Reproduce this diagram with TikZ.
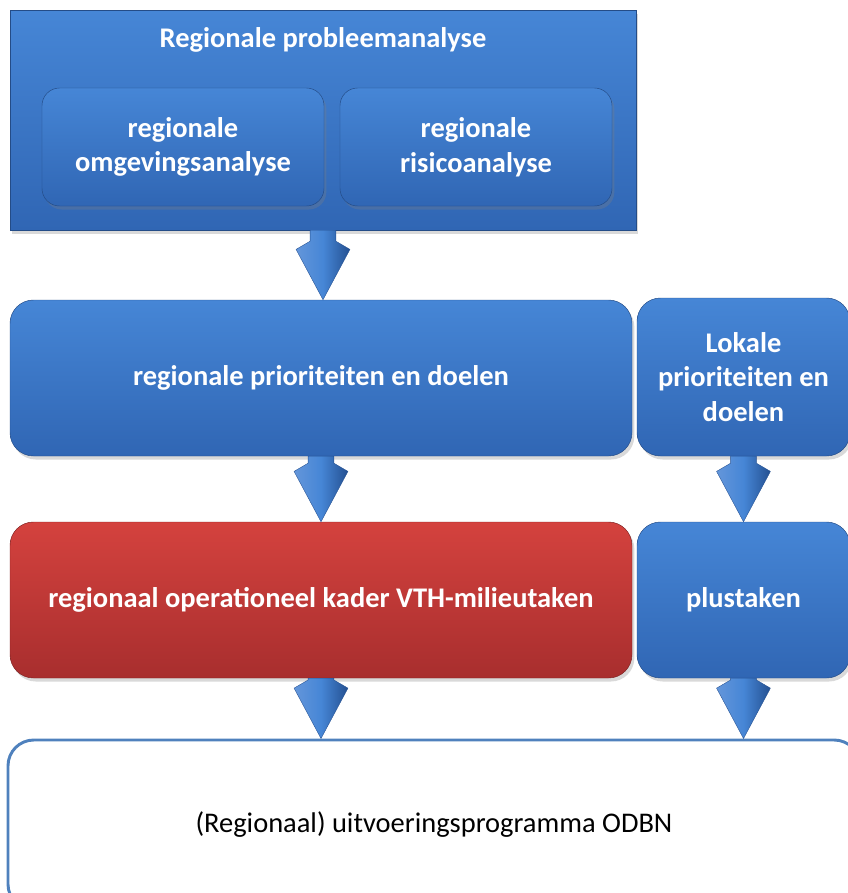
\documentclass[tikz,border=0pt]{standalone}
\usepackage{fontspec}
\setmainfont{Carlito}
\usetikzlibrary{calc,shadows}
\definecolor{bxBlueT}{RGB}{70,134,214}
\definecolor{bxBlueB}{RGB}{48,102,180}
\definecolor{bxRedT}{RGB}{212,66,62}
\definecolor{bxRedB}{RGB}{168,46,46}
\definecolor{bxEdge}{RGB}{79,129,189}
\definecolor{arLight}{RGB}{100,150,218}
\definecolor{arDark}{RGB}{36,80,145}

\begin{document}
\begin{tikzpicture}[
  x=0.03cm, y=-0.03cm,
  sz/.style 2 args={minimum width=#1*0.03cm, minimum height=#2*0.03cm, inner sep=0pt},
  box/.style={draw=#1B!75!black, line width=0.4pt, top color=#1T, bottom color=#1B,
              rounded corners=20pt, text=white, align=center,
              font=\fontsize{24.3}{29.5}\selectfont\bfseries,
              drop shadow={opacity=0.3, shadow xshift=2pt, shadow yshift=-3pt}},
  inr/.style={box=bxBlue, rounded corners=15pt},
  frame/.style={box=bxBlue, rounded corners=0pt},
  ttl/.style={text=white, font=\fontsize{24.3}{29.5}\selectfont\bfseries},
  outbox/.style={draw=bxEdge, line width=2.5pt, fill=white, rounded corners=22pt,
                 text=black, font=\fontsize{24.3}{29.5}\selectfont},
  flow/.style={draw=arDark, line width=0.3pt, left color=arLight, right color=arDark,
               middle color=bxBlueT},
]
\useasboundingbox (0,0) rectangle (848,893);

% Block arrow from one node anchor down to another.
\newcommand{\flowarrow}[2]{%
  \path[flow] let \p1=(#1), \p2=(#2) in
    (\x1-11pt,\y1) -- (\x1+11pt,\y1) -- (\x1+11pt,\y2+50pt) -- (\x1+23pt,\y2+43pt)
    -- (\x1,\y2) -- (\x1-23pt,\y2+43pt) -- (\x1-11pt,\y2+50pt) -- cycle;
}

% ---------------- problem analysis ----------------
\node[frame, sz={626}{220}] (prob) at (323,120) {};
\node[ttl] (probttl) at (323,40) {Regionale probleemanalyse};
\node[inr, sz={282}{118}] (omg) at (183,147) {regionale\\omgevingsanalyse};
\node[inr, sz={272}{118}] (ris) at (476,147) {regionale\\risicoanalyse};

% ---------------- priorities ----------------
\node[box=bxBlue, sz={622}{156}] (prio) at (321,378) {regionale prioriteiten en doelen};
\node[box=bxBlue, sz={213}{158}] (lok) at (743.5,377) {Lokale\\prioriteiten en\\doelen};

% ---------------- tasks ----------------
\node[box=bxRed, sz={622}{156}] (kader) at (321,600) {regionaal operationeel kader VTH-milieutaken};
\node[box=bxBlue, sz={213}{156}] (plus) at (743.5,600) {plustaken};

% ---------------- programme ----------------
\node[outbox, sz={852}{170}] (uitv) at (434,825) {(Regionaal) uitvoeringsprogramma ODBN};

\flowarrow{prob.south}{prio.north}
\flowarrow{prio.south}{kader.north}
\flowarrow{lok.south}{plus.north}
\flowarrow{kader.south}{uitv.north}
\flowarrow{plus.south}{uitv.north}
\end{tikzpicture}
\end{document}
